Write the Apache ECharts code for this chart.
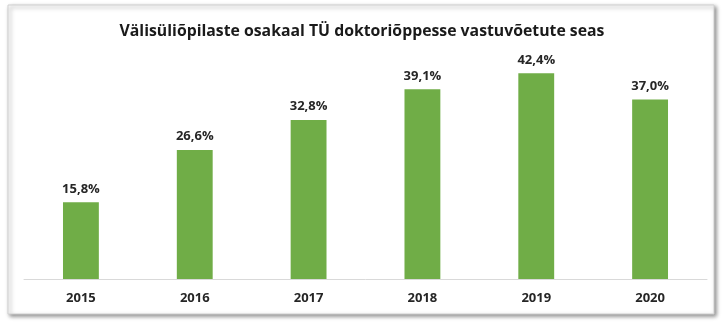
<!DOCTYPE html>
<html><head><meta charset="utf-8">
<script src="https://cdn.jsdelivr.net/npm/echarts@6/dist/echarts.min.js"></script>
<style>html,body{margin:0;padding:0;background:#fff}#c{width:724px;height:323px}</style>
</head><body><div id="c"></div>
<script>
const titleText = 'Välisüliõpilaste osakaal TÜ doktoriõppesse vastuvõetute seas';
const years = ['2015','2016','2017','2018','2019','2020'];
const shares = [15.8, 26.6, 32.8, 39.1, 42.4, 37.0];
const chart = echarts.init(document.getElementById('c'));
const font = '"Open Sans", "Liberation Sans", sans-serif';
chart.setOption({
  animation: false,
  graphic: [{
    type: 'rect', z: -10,
    shape: {x: 8, y: 5, width: 706, height: 309},
    style: {fill: '#fff', stroke: '#d0d0d0', lineWidth: 1,
      shadowBlur: 4, shadowOffsetX: 2, shadowOffsetY: 2, shadowColor: 'rgba(0,0,0,0.45)'}
  }],
  title: {
    text: titleText, left: 'center', top: 18,
    textStyle: {fontFamily: font, fontWeight: 'bold', fontSize: 15.8, color: '#1a1a1a'}
  },
  grid: {left: 24, right: 17, top: 36.5, bottom: 44, containLabel: false},
  xAxis: {
    type: 'category', data: years,
    axisLine: {lineStyle: {color: '#d9d9d9', width: 1}},
    axisTick: {show: false},
    axisLabel: {fontFamily: font, fontWeight: 'bold', fontSize: 13, color: '#262626', margin: 13}
  },
  yAxis: {type: 'value', min: 0, max: 50, show: false, splitLine: {show: false}},
  series: [{
    type: 'bar', data: shares, barWidth: '31.5%',
    itemStyle: {color: '#70AD47'},
    label: {show: true, position: 'top', distance: 7,
      formatter: p => p.value.toFixed(1).replace('.', ',') + '%',
      fontFamily: font, fontWeight: 'bold', fontSize: 13, color: '#262626'}
  }]
});
</script></body></html>
